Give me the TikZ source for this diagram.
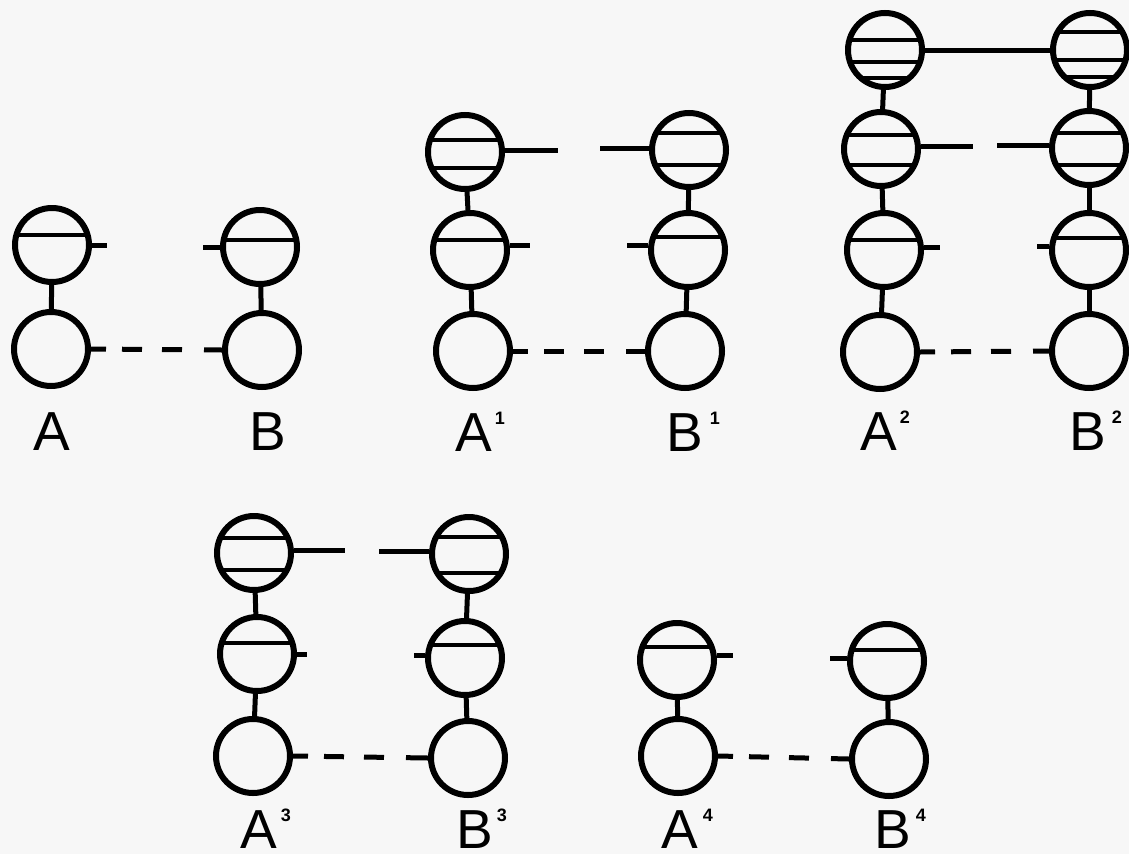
\documentclass[tikz,border=0pt]{standalone}
\usepackage{fontspec}
\setmainfont{Liberation Sans}
\newcommand\chordset[2]{%
  \begin{scope}
    \clip (#1.center) circle [radius=37pt];
    \foreach \cy in {#2} \draw[bar] ([shift={(-40,\cy)}]#1.center) -- ([shift={(40,\cy)}]#1.center);
  \end{scope}}
\newcommand\supnum[1]{\raisebox{27pt}{\fontsize{18}{18}\selectfont\bfseries #1}}
\tikzset{
  ring/.style={circle, draw, line width=6pt, minimum size=74pt, inner sep=0pt},
  bar/.style={line width=4.5pt},
  link/.style={line width=5pt},
  dashlink/.style={line width=5pt, dash pattern=on 15pt off 16pt on 20pt off 20pt on 20pt off 22pt on 80pt},
  lab/.style={anchor=base west, inner sep=0pt, font=\fontsize{55}{55}\selectfont}
}
\begin{document}
\begin{tikzpicture}[x=1pt,y=-1pt]
\fill[white!97!black] (0,0) rectangle (1129,854);
\useasboundingbox (0,0) rectangle (1129,854);

% ---------- A, B ----------
\node[ring] (a1) at (52,245) {};
\node[ring] (a0) at (51,349) {};
\node[ring] (b1) at (260,247) {};
\node[ring] (b0) at (262,350) {};
\chordset{a1}{-10}
\chordset{b1}{-7}
\draw[link] (a1) -- (a0);
\draw[link] (b1) -- (b0);
\draw[link] (a1.east) -- ++(15,0);
\draw[link] (b1.west) -- ++(-17,0);
\draw[dashlink] (a0.east) -- (b0.west);
\node[lab] (la) at (33,450) {A};
\node[lab] (lb) at (249,450) {B};

% ---------- A1, B1 ----------
\node[ring] (p2) at (465,152) {};
\node[ring] (p1) at (470,250) {};
\node[ring] (p0) at (473,351) {};
\node[ring] (q2) at (689,150) {};
\node[ring] (q1) at (688,250) {};
\node[ring] (q0) at (685,351) {};
\chordset{p2}{-12,16}
\chordset{p1}{-10}
\chordset{q2}{-17,15}
\chordset{q1}{-13}
\draw[link] (p2) -- (p1);
\draw[link] (p1) -- (p0);
\draw[link] (q2) -- (q1);
\draw[link] (q1) -- (q0);
\draw[link] ([yshift=2pt]p2.east) -- ++(53,0);
\draw[link] ([yshift=2pt]q2.west) -- ++(-49,0);
\draw[link] ([yshift=5pt]p1.east) -- ++(20,0);
\draw[link] ([yshift=5pt]q1.west) -- ++(-21,0);
\draw[dashlink] (p0.east) -- (q0.west);
\node[lab] (lp) at (455,451) {A\hspace{3pt}\supnum{1}};
\node[lab] (lq) at (666,451) {B\hspace{7pt}\supnum{1}};

% ---------- A2, B2 ----------
\node[ring] (r3) at (885,50) {};
\node[ring] (r2) at (881,149) {};
\node[ring] (r1) at (884,250) {};
\node[ring] (r0) at (880,352) {};
\node[ring] (s3) at (1090,50) {};
\node[ring] (s2) at (1089,148) {};
\node[ring] (s1) at (1089,250) {};
\node[ring] (s0) at (1089,351) {};
\chordset{r3}{-10,12,28}
\chordset{r2}{-14,16}
\chordset{r1}{-10}
\chordset{s3}{-18,10,27}
\chordset{s2}{-15,17}
\chordset{s1}{-12}
\draw[link] (r3) -- (r2);
\draw[link] (r2) -- (r1);
\draw[link] (r1) -- (r0);
\draw[link] (s3) -- (s2);
\draw[link] (s2) -- (s1);
\draw[link] (s1) -- (s0);
\draw[link] (r3.east) -- (s3.west);
\draw[link] ([yshift=3pt]r2.east) -- ++(52,0);
\draw[link] ([yshift=3pt]s2.west) -- ++(-52,0);
\draw[link] ([yshift=3pt]r1.east) -- ++(16,0);
\draw[link] ([yshift=4pt]s1.west) -- ++(-12,0);
\draw[dashlink] (r0.east) -- (s0.west);
\node[lab] (lr) at (860,450) {A\hspace{3pt}\supnum{2}};
\node[lab] (ls) at (1069,450) {B\hspace{6pt}\supnum{2}};

% ---------- A3, B3 ----------
\node[ring] (t2) at (254,553) {};
\node[ring] (t1) at (257,654) {};
\node[ring] (t0) at (253,756) {};
\node[ring] (u2) at (469,554) {};
\node[ring] (u1) at (465,658) {};
\node[ring] (u0) at (468,758) {};
\chordset{t2}{-15,17}
\chordset{t1}{-11}
\chordset{u2}{-17,19}
\chordset{u1}{-13}
\draw[link] (t2) -- (t1);
\draw[link] (t1) -- (t0);
\draw[link] (u2) -- (u1);
\draw[link] (u1) -- (u0);
\draw[link] ([yshift=3pt]t2.east) -- ++(51,0);
\draw[link] ([yshift=3pt]u2.west) -- ++(-50,0);
\draw[link] (t1.east) -- ++(10,0);
\draw[link] ([yshift=3pt]u1.west) -- ++(-11,0);
\draw[dashlink] (t0.east) -- (u0.west);
\node[lab] (lt) at (240,848) {A\hspace{4pt}\supnum{3}};
\node[lab] (lu) at (456,848) {B\hspace{4pt}\supnum{3}};

% ---------- A4, B4 ----------
\node[ring] (v1) at (677,660) {};
\node[ring] (v0) at (678,756) {};
\node[ring] (w1) at (887,661) {};
\node[ring] (w0) at (889,759) {};
\chordset{v1}{-13}
\chordset{w1}{-11}
\draw[link] (v1) -- (v0);
\draw[link] (w1) -- (w0);
\draw[link] ([yshift=5pt]v1.east) -- ++(16,0);
\draw[link] ([yshift=3pt]w1.west) -- ++(-17,0);
\draw[dashlink] (v0.east) -- (w0.west);
\node[lab] (lv) at (661,848) {A\hspace{5pt}\supnum{4}};
\node[lab] (lw) at (874,848) {B\hspace{5pt}\supnum{4}};
\end{tikzpicture}
\end{document}
